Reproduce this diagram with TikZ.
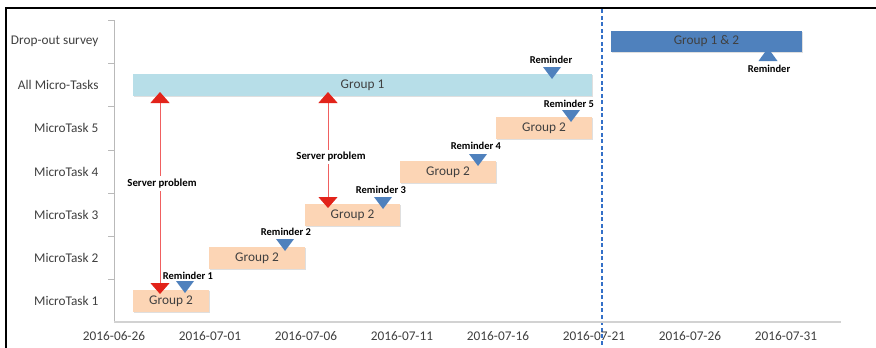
\documentclass[tikz,border=0pt]{standalone}
\usepackage{fontspec}
\setmainfont{Carlito}
\usetikzlibrary{arrows.meta,shadows}
\definecolor{lblue}{HTML}{B7DEE8}
\definecolor{peach}{HTML}{FCD5B5}
\definecolor{mblue}{HTML}{4F81BD}
\definecolor{dashblue}{HTML}{3470C8}
\definecolor{txt}{HTML}{404040}
\definecolor{redhead}{HTML}{E2231A}
\definecolor{redline}{HTML}{F06060}
\tikzset{
  bar/.style={draw=none, inner sep=0pt, text=txt, font=\fontsize{13.3}{15}\selectfont,
     drop shadow={shadow xshift=1pt, shadow yshift=-1.2pt, opacity=0.25}},
  cat/.style={anchor=east, text=txt, font=\fontsize{13.3}{15}\selectfont},
  datelbl/.style={text=txt, font=\fontsize{13.3}{15}\selectfont},
  rem/.style={font=\bfseries\fontsize{10.5}{12}\selectfont, inner sep=1pt},
  srv/.style={font=\bfseries\fontsize{10.8}{12}\selectfont, fill=white, inner sep=2.5pt},
  tri/.style={fill=mblue, draw=none},
  dashseg/.style={fill=dashblue, draw=none},
  srvarrow/.style={draw=redline, line width=0.9pt,
     {Triangle[width=19pt,length=11pt,color=redhead]}-{Triangle[width=19pt,length=11pt,color=redhead]}}
}
\begin{document}
\begin{tikzpicture}[x=1pt,y=-1pt]
\useasboundingbox (0,0) rectangle (876,348);
\fill[white] (0,0) rectangle (876,348);
% dashed line (drawn as short blue segments)
\foreach \yy in {9,15.5,...,345}
  \fill[dashseg] (600.5,\yy) rectangle (602.5,{min(\yy+4.2,348)});
% frame
\draw[black, line width=2pt] (5.5,348) -- (5.5,8) -- (876,8);
% axes
\draw[gray!55, line width=1pt] (114,20) -- (114,322);
\foreach \yy in {20,63,106,150,193,236,279}
  \draw[gray!55, line width=1pt] (108,\yy) -- (114,\yy);
\draw[gray!35, line width=1.6pt] (114,322) -- (841,322);
% category labels
\node[cat] (c0) at (102,41.5) {Drop-out survey};
\node[cat] (c1) at (102,84.5) {All Micro-Tasks};
\node[cat] (c2) at (102,128) {MicroTask 5};
\node[cat] (c3) at (102,171.5) {MicroTask 4};
\node[cat] (c4) at (102,214.5) {MicroTask 3};
\node[cat] (c5) at (102,257.5) {MicroTask 2};
\node[cat] (c6) at (102,300.5) {MicroTask 1};
% date labels
\foreach \d/\lab [count=\i] in {0/2016-06-26,5/2016-07-01,10/2016-07-06,15/2016-07-11,20/2016-07-16,25/2016-07-21,30/2016-07-26,35/2016-07-31}
  \node[datelbl] (d\i) at ({114+19.2*\d},336) {\lab};
% bars
\node[bar, fill=lblue, minimum width=459pt, minimum height=22pt] (g1) at (362.5,85) {Group 1};
\node[bar, fill=peach, minimum width=76pt, minimum height=22pt] (m1) at (171,301) {Group 2};
\node[bar, fill=peach, minimum width=96pt, minimum height=22pt] (m2) at (257,258) {Group 2};
\node[bar, fill=peach, minimum width=95pt, minimum height=22pt] (m3) at (352.5,215) {Group 2};
\node[bar, fill=peach, minimum width=96pt, minimum height=22pt] (m4) at (448,172) {Group 2};
\node[bar, fill=peach, minimum width=96pt, minimum height=22pt] (m5) at (544,128) {Group 2};
\node[bar, fill=mblue, minimum width=191pt, minimum height=21pt] (g12) at (706.5,41.5) {Group 1 \& 2};
% reminder triangles
\foreach \xx/\tt in {185/281,285/239,383/197,478/154,571/110,552/67}
  \fill[tri] (\xx-9,\tt) -- (\xx+9,\tt) -- (\xx,\tt+12) -- cycle;
\fill[tri] (758.5,61) -- (777.5,61) -- (768,48) -- cycle;
% reminder labels
\node[rem] (r1) at (188,276) {Reminder 1};
\node[rem] (r2) at (286,232) {Reminder 2};
\node[rem] (r3) at (381,190) {Reminder 3};
\node[rem] (r4) at (476,146) {Reminder 4};
\node[rem] (r5) at (569,104) {Reminder 5};
\node[rem] (r6) at (551,60) {Reminder};
\node[rem] (r7) at (769,69) {Reminder};
% server problem arrows
\coordinate (a1t) at (160,92);
\coordinate (a1b) at (160,294);
\coordinate (a2t) at (328,92);
\coordinate (a2b) at (328,208);
\draw[srvarrow] (a1t) -- (a1b);
\draw[srvarrow] (a2t) -- (a2b);
\node[srv] (s1) at (162,183.5) {Server problem};
\node[srv] (s2) at (331,157) {Server problem};
\end{tikzpicture}
\end{document}
